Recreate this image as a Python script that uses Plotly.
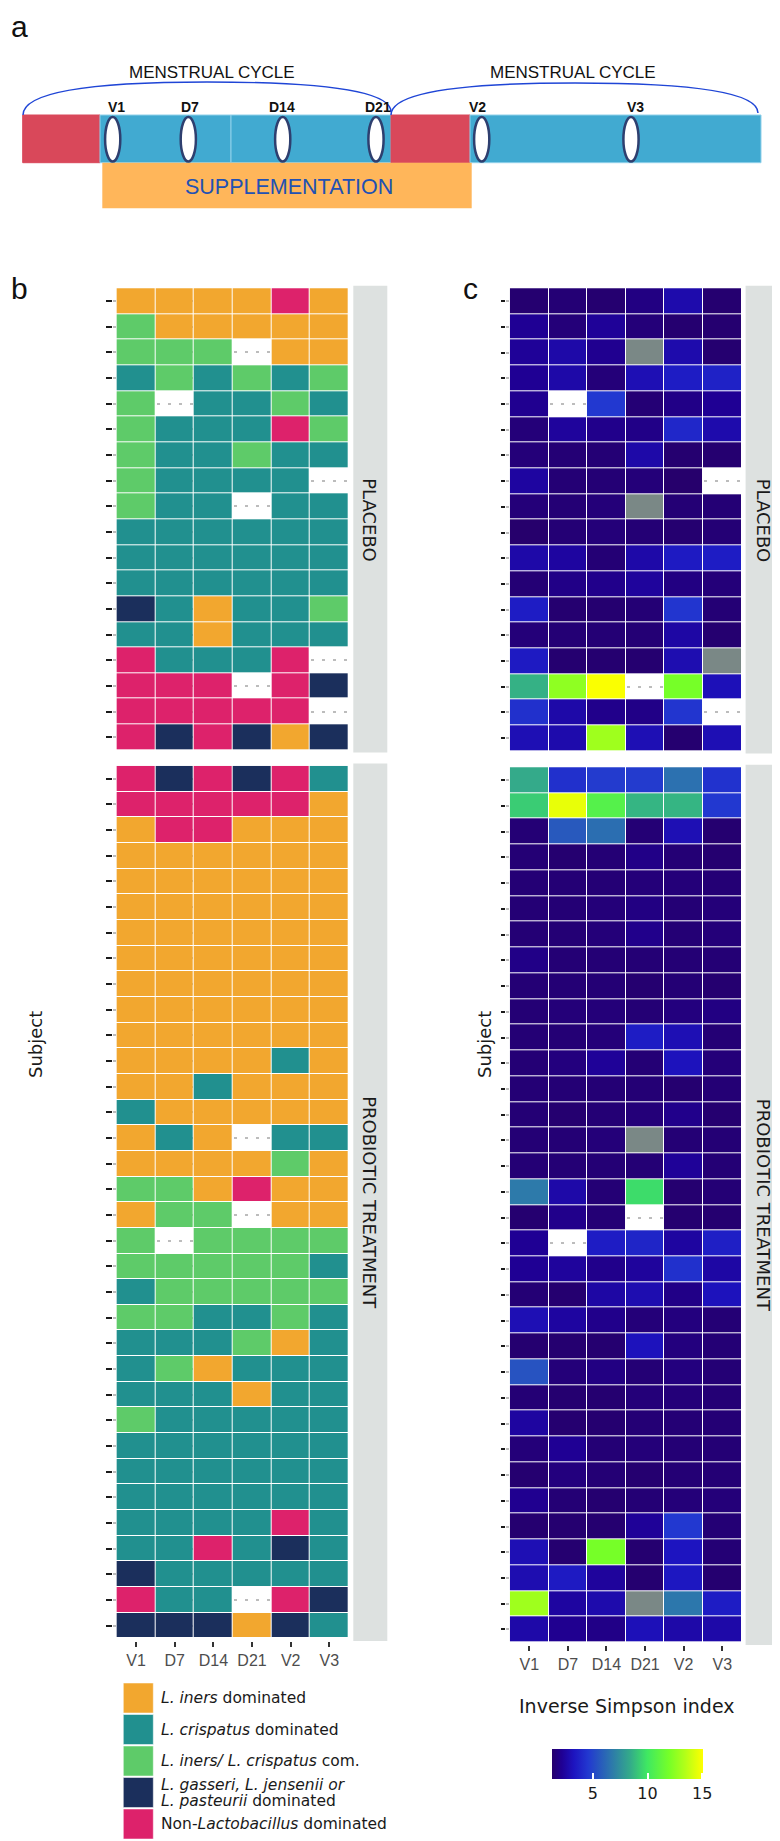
import plotly.graph_objects as go
import numpy as np

W, H = 780, 1841
OFF = 8  # page body margin offset compensation


def fx(p):
    return (p - OFF) / W


def fy(p):
    return 1 - (p - OFF) / H


# ---------------- data ----------------
visits = ["V1", "D7", "D14", "D21", "V2", "V3"]
groups = ["PLACEBO", "PROBIOTIC TREATMENT"]

cst_legend_lines = [
    ["<i>L. iners</i> dominated"],
    ["<i>L. crispatus</i> dominated"],
    ["<i>L. iners/ L. crispatus</i> com."],
    ["<i>L. gasseri, L. jensenii or</i>", "<i>L. pasteurii</i> dominated"],
    ["Non-<i>Lactobacillus</i> dominated"],
]
cst_colors = ["#f2a72f", "#21908f", "#5ecb69", "#1b2f5c", "#dd226b"]

O, T, G, N, P, X = 0, 1, 2, 3, 4, None

cst_placebo = [
    [O, O, O, O, P, O],
    [G, O, O, O, O, O],
    [G, G, G, X, O, O],
    [T, G, T, G, T, G],
    [G, X, T, T, G, T],
    [G, T, T, T, P, G],
    [G, T, T, G, T, T],
    [G, T, T, T, T, X],
    [G, T, T, X, T, T],
    [T, T, T, T, T, T],
    [T, T, T, T, T, T],
    [T, T, T, T, T, T],
    [N, T, O, T, T, G],
    [T, T, O, T, T, T],
    [P, T, T, T, P, X],
    [P, P, P, X, P, N],
    [P, P, P, P, P, X],
    [P, N, P, N, O, N],
]

cst_probiotic = [
    [P, N, P, N, P, T],
    [P, P, P, P, P, O],
    [O, P, P, O, O, O],
    [O, O, O, O, O, O],
    [O, O, O, O, O, O],
    [O, O, O, O, O, O],
    [O, O, O, O, O, O],
    [O, O, O, O, O, O],
    [O, O, O, O, O, O],
    [O, O, O, O, O, O],
    [O, O, O, O, O, O],
    [O, O, O, O, T, O],
    [O, O, T, O, O, O],
    [T, O, O, O, O, O],
    [O, T, O, X, T, T],
    [O, O, O, O, G, O],
    [G, G, O, P, O, O],
    [O, G, G, X, O, O],
    [G, X, G, G, G, G],
    [G, G, G, G, G, T],
    [T, G, G, G, G, G],
    [G, G, T, T, G, T],
    [T, T, T, G, O, T],
    [T, G, O, T, T, T],
    [T, T, T, O, T, T],
    [G, T, T, T, T, T],
    [T, T, T, T, T, T],
    [T, T, T, T, T, T],
    [T, T, T, T, T, T],
    [T, T, T, T, P, T],
    [T, T, P, T, N, T],
    [N, T, T, T, T, T],
    [P, T, T, X, P, N],
    [N, N, N, O, N, T],
]

# Inverse Simpson index; M = no sample (white), NA = not computed (grey)
M, NA = None, -1

isi_placebo = [
    [1.4, 1.5, 1.4, 1.8, 2.8, 1.4],
    [2.2, 1.6, 2.3, 1.6, 1.4, 1.4],
    [2.3, 2.7, 2.1, NA, 2.8, 1.4],
    [2.2, 2.7, 1.6, 3.0, 3.6, 3.8],
    [2.1, M, 4.6, 1.5, 1.9, 2.2],
    [1.6, 2.4, 2.0, 1.9, 4.0, 2.8],
    [1.6, 1.5, 1.5, 2.7, 1.4, 1.4],
    [2.5, 1.5, 1.5, 1.6, 1.3, M],
    [1.6, 1.5, 1.6, NA, 1.5, 1.5],
    [1.3, 1.5, 1.6, 1.5, 1.4, 1.5],
    [2.7, 2.5, 1.5, 2.7, 3.5, 3.6],
    [1.5, 1.9, 2.0, 2.4, 1.8, 1.6],
    [3.6, 1.4, 1.4, 1.5, 4.5, 1.5],
    [1.6, 1.5, 1.5, 1.5, 2.6, 1.4],
    [3.5, 1.4, 1.4, 1.4, 2.9, NA],
    [8.6, 12.6, 15.0, M, 12.0, 3.1],
    [4.3, 2.7, 2.0, 1.9, 4.5, M],
    [3.0, 2.8, 13.0, 3.0, 1.4, 3.0],
]

isi_probiotic = [
    [8.4, 4.3, 4.7, 4.7, 6.5, 4.4],
    [9.3, 14.6, 10.8, 8.7, 8.7, 4.6],
    [1.5, 5.7, 6.4, 1.5, 3.0, 1.4],
    [1.5, 1.4, 1.5, 1.9, 1.5, 1.4],
    [1.5, 1.5, 1.5, 1.6, 1.6, 1.5],
    [1.5, 1.5, 1.6, 1.8, 1.5, 1.6],
    [1.5, 1.5, 1.6, 2.0, 1.5, 1.6],
    [1.9, 1.5, 1.5, 1.5, 1.5, 1.5],
    [1.5, 1.5, 1.5, 1.4, 1.5, 1.4],
    [1.5, 1.6, 1.6, 1.5, 1.7, 1.8],
    [1.5, 1.5, 1.6, 3.6, 3.0, 1.5],
    [1.5, 1.7, 2.3, 1.5, 3.2, 1.6],
    [1.5, 1.5, 1.5, 1.5, 1.4, 1.5],
    [1.5, 1.4, 1.5, 1.6, 2.0, 1.4],
    [1.5, 1.5, 1.6, NA, 1.5, 1.5],
    [1.5, 1.5, 1.5, 1.5, 2.3, 1.5],
    [6.8, 2.7, 1.5, 9.7, 1.4, 1.5],
    [1.4, 2.0, 1.5, M, 1.4, 1.4],
    [2.2, M, 3.6, 3.9, 2.5, 3.7],
    [2.2, 2.4, 2.0, 2.4, 4.3, 2.6],
    [1.5, 1.4, 2.6, 2.9, 1.9, 3.2],
    [3.0, 2.5, 2.0, 1.6, 1.7, 1.5],
    [1.4, 1.4, 1.4, 3.2, 1.7, 1.5],
    [5.5, 1.6, 1.8, 1.5, 1.7, 1.5],
    [1.5, 1.4, 1.4, 1.6, 1.6, 1.5],
    [2.5, 1.4, 1.4, 1.5, 1.5, 1.5],
    [1.6, 2.2, 1.5, 1.6, 1.5, 1.5],
    [1.4, 1.7, 1.5, 1.4, 1.5, 1.5],
    [2.1, 1.5, 1.4, 1.5, 1.6, 1.6],
    [1.4, 1.4, 1.4, 2.3, 4.6, 1.5],
    [3.0, 1.4, 12.0, 1.4, 3.3, 1.5],
    [2.9, 3.5, 2.4, 1.4, 3.4, 1.4],
    [13.0, 2.5, 2.8, NA, 6.7, 3.6],
    [2.7, 2.1, 1.9, 3.1, 2.7, 2.7],
]

colorbar_ticks = [5, 10, 15]
isi_min, isi_max = 1.3, 15.1

# timeline (panel a)
timeline_visits = ["V1", "D7", "D14", "D21", "V2", "V3"]

# ---------------- styling ----------------
SANS = "Liberation Sans, Arial, sans-serif"
DEJA = "DejaVu Sans, Verdana, sans-serif"
STRIP_FILL = "#dde1e0"
NA_GREY = "#7a8886"

isi_stops = [(1.3, "#26006c"), (2.2, "#1f0094"), (3.3, "#1d14c0"), (4.6, "#2238d0"),
             (6.6, "#2c74ae"), (8.5, "#34ad88"), (10.0, "#3fe862"), (12.0, "#76ff28"),
             (13.5, "#b4ff18"), (15.1, "#ffff00")]
isi_scale = [[(v - isi_min) / (isi_max - isi_min), c] for v, c in isi_stops]

cst_scale = []
for i, c in enumerate(cst_colors):
    cst_scale.append([i / len(cst_colors), c])
    cst_scale.append([(i + 1) / len(cst_colors), c])

fig = go.Figure()


def cst_z(rows):
    return [[np.nan if v is None else v for v in r] for r in rows]


def isi_z(rows):
    return [[np.nan if (v is None or v == NA) else v for v in r] for r in rows]


def isi_grey(rows):
    return [[1 if v == NA else np.nan for v in r] for r in rows]


panels_b = [(cst_placebo, "x", "y"), (cst_probiotic, "x2", "y2")]
for rows, xa, ya in panels_b:
    fig.add_trace(go.Heatmap(
        z=cst_z(rows), x=visits, y=list(range(len(rows))),
        colorscale=cst_scale, zmin=-0.5, zmax=len(cst_colors) - 0.5,
        showscale=False, xgap=1, ygap=1, xaxis=xa, yaxis=ya, hoverinfo="skip"))

panels_c = [(isi_placebo, "x3", "y3"), (isi_probiotic, "x4", "y4")]
for rows, xa, ya in panels_c:
    fig.add_trace(go.Heatmap(
        z=isi_z(rows), x=visits, y=list(range(len(rows))),
        coloraxis="coloraxis", xgap=1, ygap=1, xaxis=xa, yaxis=ya, hoverinfo="skip"))
    fig.add_trace(go.Heatmap(
        z=isi_grey(rows), x=visits, y=list(range(len(rows))),
        colorscale=[[0, NA_GREY], [1, NA_GREY]], showscale=False,
        xgap=1, ygap=1, xaxis=xa, yaxis=ya, hoverinfo="skip"))

# ---------------- axes ----------------
pad = 0.1
grid = dict(showgrid=True, gridcolor="#bcbcbc", gridwidth=1.5, griddash="3px,8px")

# panel pixel boxes: (x0, x1, y0, y1)
box_b1 = (112.8, 352.6, 285.7, 752.6)
box_b2 = (112.8, 352.6, 763.4, 1640.9)
box_c1 = (506.1, 745.4, 285.7, 753.6)
box_c2 = (506.1, 745.4, 764.7, 1644.9)

layout_axes = {}
specs = [
    ("xaxis", "yaxis", "x", "y", box_b1, len(cst_placebo), False, 6, 2.2),
    ("xaxis2", "yaxis2", "x2", "y2", box_b2, len(cst_probiotic), True, 6, 2.2),
    ("xaxis3", "yaxis3", "x3", "y3", box_c1, len(isi_placebo), False, 4.5, 1.8),
    ("xaxis4", "yaxis4", "x4", "y4", box_c2, len(isi_probiotic), True, 4.5, 1.8),
]
for xk, yk, xa, ya, box, n, bottom, tl, tw in specs:
    x0, x1, y0, y1 = box
    layout_axes[xk] = dict(
        domain=[fx(x0), fx(x1)], anchor=ya, range=[-0.5 - pad, len(visits) - 0.5 + pad],
        showgrid=False, zeroline=False, showline=False,
        ticks="outside" if bottom else "", ticklen=5, tickwidth=1.5, tickcolor="#333333",
        showticklabels=bottom, tickfont=dict(family=SANS, size=16, color="#4d4d4d"),
        fixedrange=True)
    layout_axes[yk] = dict(
        domain=[fy(y1), fy(y0)], anchor=xa, range=[n - 0.5 + pad, -0.5 - pad],
        tickmode="array", tickvals=list(range(n)), showticklabels=False,
        ticks="outside", ticklen=tl, tickwidth=tw, tickcolor="#1a1a1a",
        zeroline=False, showline=False, fixedrange=True, **grid)

# panel a axes in pixel units
layout_axes["xaxis5"] = dict(domain=[0, 1], range=[OFF, W + OFF], anchor="y5", visible=False, fixedrange=True)
layout_axes["yaxis5"] = dict(domain=[fy(215), 1], range=[215, OFF], anchor="x5", visible=False, fixedrange=True)

shapes = []
annotations = []


def note(x, y, text, font, xanchor="center", yanchor="middle", **kw):
    annotations.append(dict(x=fx(x), y=fy(y), xref="paper", yref="paper", text=text,
                            showarrow=False, xanchor=xanchor, yanchor=yanchor, font=font, **kw))


strip_font = dict(family=DEJA, size=18, color="#1a1a1a")
# strips
for box, label in [(box_b1, groups[0]), (box_b2, groups[1])]:
    sx0, sx1 = 353.3, 387.3
    shapes.append(dict(type="rect", xref="paper", yref="paper", x0=fx(sx0), x1=fx(sx1),
                       y0=fy(box[3]), y1=fy(box[2]), fillcolor=STRIP_FILL, line=dict(width=0), layer="below"))
    note(370, (box[2] + box[3]) / 2, label, strip_font, textangle=90)
for box, label in [(box_c1, groups[0]), (box_c2, groups[1])]:
    sx0, sx1 = 745.6, 790
    shapes.append(dict(type="rect", xref="paper", yref="paper", x0=fx(sx0), x1=fx(sx1),
                       y0=fy(box[3]), y1=fy(box[2]), fillcolor=STRIP_FILL, line=dict(width=0), layer="below"))
    note(763, (box[2] + box[3]) / 2, label, strip_font, textangle=90)

# y-axis titles
for xp in (35, 484):
    note(xp, 1045, "Subject", dict(family=DEJA, size=18, color="#1a1a1a"), textangle=-90)

# panel letters (kept inside the drawable area)
letter_font = dict(family=SANS, size=30, color="#111111")
note(9, 8, "a", letter_font, xanchor="left", yanchor="top")
note(9, 289, "b", letter_font, xanchor="left")
note(470, 289, "c", letter_font)

# CST legend
for i, (lines, col) in enumerate(zip(cst_legend_lines, cst_colors)):
    top = 1683 + i * 31.5
    shapes.append(dict(type="rect", xref="paper", yref="paper", x0=fx(123.3), x1=fx(153.3),
                       y0=fy(top + 30), y1=fy(top), fillcolor=col,
                       line=dict(color="rgba(255,255,255,0.5)", width=1)))
    centre = top + 15
    offs = [0] if len(lines) == 1 else [-8, 8]
    for ln, off in zip(lines, offs):
        note(159, centre + off, ln, dict(family=DEJA, size=15.5, color="#1a1a1a"), xanchor="left")

# colorbar title
note(627, 1706, "Inverse Simpson index", dict(family=DEJA, size=19, color="#1a1a1a"))

# ---------------- panel a: study design ----------------
RED = "#d9485a"
BLUE = "#41aad1"
ORANGE = "#ffb65a"
bar_y0, bar_y1 = 115, 162.7
for x0, x1, col in [(22.7, 100, RED), (100, 231, BLUE), (231, 391, BLUE), (391, 470, RED), (470, 761, BLUE)]:
    shapes.append(dict(type="rect", xref="x5", yref="y5", x0=x0, x1=x1, y0=bar_y0, y1=bar_y1,
                       fillcolor=col, line=dict(color="#8fd0ea" if col == BLUE else col, width=1)))
shapes.append(dict(type="rect", xref="x5", yref="y5", x0=102.3, x1=471.7, y0=162.7, y1=208.3,
                   fillcolor=ORANGE, line=dict(width=0)))
annotations.append(dict(x=288.5, y=186.5, xref="x5", yref="y5", text="SUPPLEMENTATION", showarrow=False,
                        xanchor="center", yanchor="middle",
                        font=dict(family=SANS, size=21.5, color="#2251b3")))
# cycle arcs
shapes.append(dict(type="path", xref="x5", yref="y5", path="M 23 115 Q 23 82 207 82 Q 391 82 391 112",
                   line=dict(color="#1f45d6", width=1.5)))
shapes.append(dict(type="path", xref="x5", yref="y5", path="M 391 115 Q 391 83 575 83 Q 758 83 758 113",
                   line=dict(color="#1f45d6", width=1.5)))
for xc in (211.7, 572.5):
    annotations.append(dict(x=xc, y=72, xref="x5", yref="y5", text="MENSTRUAL CYCLE", showarrow=False,
                            xanchor="center", yanchor="middle",
                            font=dict(family=SANS, size=17, color="#111111")))
oval_x = [112.7, 188.3, 282.7, 376, 481.7, 631]
label_x = [116, 190, 282, 378, 477, 635]
for v, ox, lx in zip(timeline_visits, oval_x, label_x):
    shapes.append(dict(type="circle", xref="x5", yref="y5", x0=ox - 7.6, x1=ox + 7.6, y0=117, y1=161.5,
                       fillcolor="white", line=dict(color="#2e3f6f", width=2.5)))
    annotations.append(dict(x=lx, y=107, xref="x5", yref="y5", text="<b>%s</b>" % v, showarrow=False,
                            xanchor="center", yanchor="middle",
                            font=dict(family=SANS, size=14, color="#111111")))

fig.update_layout(
    width=W, height=H, autosize=False,
    margin=dict(l=0, r=0, t=0, b=0),
    paper_bgcolor="white", plot_bgcolor="white",
    showlegend=False,
    shapes=shapes, annotations=annotations,
    coloraxis=dict(
        colorscale=isi_scale, cmin=isi_min, cmax=isi_max,
        colorbar=dict(
            orientation="h", x=fx(627.8), xanchor="center", y=fy(1749), yanchor="top",
            len=151, lenmode="pixels", thickness=30, outlinewidth=0,
            tickmode="array", tickvals=colorbar_ticks, ticks="inside", ticklen=6,
            tickcolor="white", tickwidth=1.5, xpad=0, ypad=0,
            tickfont=dict(family=DEJA, size=16, color="#1a1a1a"))),
    **layout_axes,
)

fig.write_html("out.html")
